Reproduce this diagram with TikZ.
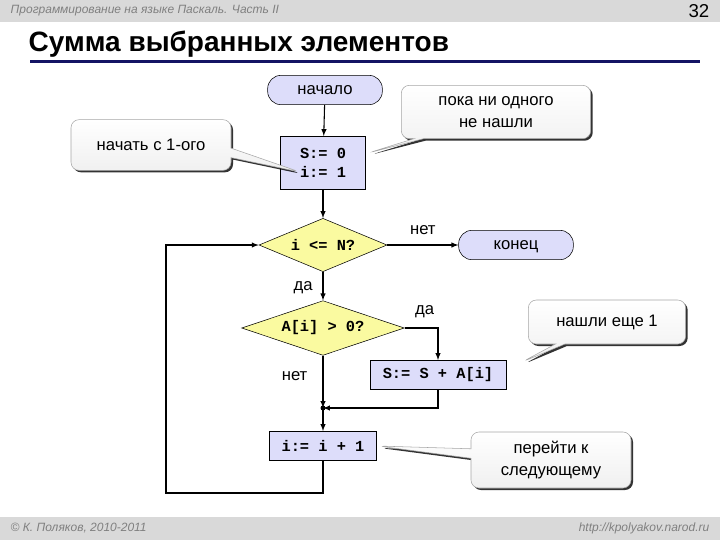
\documentclass[tikz,border=0pt]{standalone}
\usepackage{fontspec}
\setmainfont{Liberation Sans}
\newfontfamily\codefont{Liberation Mono}
\usetikzlibrary{positioning,shapes.geometric,shapes.callouts,shadows}
\definecolor{boxfill}{RGB}{221,221,250}
\definecolor{decfill}{RGB}{250,250,160}
\definecolor{bandgray}{RGB}{217,217,217}
\definecolor{navy}{RGB}{20,20,100}
\begin{document}
\begin{tikzpicture}[x=0.75pt,y=-0.75pt,
  term/.style = {draw, rounded corners=10pt, fill=boxfill, minimum width=86pt, minimum height=22pt, text height=6pt, text depth=0pt, font=\fontsize{12.5}{14}\selectfont},
  proc/.style = {draw, fill=boxfill, inner sep=2pt, font=\codefont\bfseries\fontsize{11.5}{14}\selectfont},
  dec/.style = {draw, diamond, aspect=2.4, inner sep=0pt, fill=decfill, font=\codefont\bfseries\fontsize{11.5}{14}\selectfont},
  note/.style = {rectangle callout, draw=gray!70, rounded corners=6pt, top color=white, bottom color=gray!12,
    drop shadow={shadow xshift=1.5pt, shadow yshift=-1.5pt, fill=black, opacity=0.8}, align=center, font=\fontsize{12.5}{17}\selectfont},
  lbl/.style = {font=\fontsize{12.5}{14}\selectfont},
  arr/.style = {-latex, thick}]
\useasboundingbox (0,0) rectangle (720,540);
% header and footer
\fill[bandgray] (0,0) rectangle (720,22);
\fill[bandgray] (0,517) rectangle (720,540);
\node[anchor=west, gray, font=\itshape\fontsize{9}{10}\selectfont] (head) at (6,11) {Программирование на языке Паскаль. Часть II};
\node[anchor=east, font=\fontsize{14}{14}\selectfont] (page) at (714,11) {32};
\node[anchor=west, font=\bfseries\fontsize{21}{22}\selectfont] (title) at (24,44) {Сумма выбранных элементов};
\fill[navy] (30,60) rectangle (700,63);
\node[anchor=west, gray, font=\itshape\fontsize{9}{10}\selectfont] (copy) at (6,528) {© К. Поляков, 2010-2011};
\node[anchor=east, gray, font=\itshape\fontsize{9}{10}\selectfont] (site) at (714,528) {http://kpolyakov.narod.ru};

% flowchart
\node[term] (start) at (325,90) {начало};
\node[proc, minimum width=64pt, minimum height=40pt, align=left] (init) at (323,163) {S:= 0\\i:= 1};
\node[dec, minimum width=96pt, minimum height=40pt] (cond) at (323,245) {i <= N?};
\node[term] (stop) at (516,245) {конец};
\node[dec, minimum width=122pt, minimum height=41pt] (pos) at (323,328) {A[i] > 0?};
\node[proc, minimum width=102pt, minimum height=22pt] (add) at (438,375) {S:= S + A[i]};
\coordinate (join) at (323,408);
\node[proc, minimum width=80pt, minimum height=22pt] (next) at (323,446) {i:= i + 1};
\coordinate (low) at (323,493);
\coordinate (left) at (166,493);

\draw[arr] (start) -- (init);
\draw[arr] (init) -- (cond);
\draw[arr] (cond) -- node[lbl, above=4pt] {нет} (stop);
\draw[arr] (cond) -- node[lbl, left=4pt, pos=0.55] {да} (pos);
\draw[arr] (pos.east) -| node[lbl, above=4pt, pos=0.3] {да} (add);
\draw[arr] (pos) -- node[lbl, left=8pt, pos=0.4] {нет} (join);
\draw[arr] (add) |- (join);
\fill (join) circle (2.5);
\draw[arr] (join) -- (next);
\draw[arr] (next) -- (low) -- (left) |- (cond);

% notes
\node[note, minimum width=120pt, minimum height=38pt, callout absolute pointer={(300,172)}] (n1) at (151,145) {начать с 1-ого};
\node[note, minimum width=142pt, minimum height=40pt, callout absolute pointer={(368,153)}] (n2) at (496,112) {пока ни одного\\не нашли};
\node[note, minimum width=118pt, minimum height=33pt, callout absolute pointer={(522,362)}] (n3) at (607,322) {нашли еще 1};
\node[note, minimum width=120pt, minimum height=42pt, callout absolute pointer={(378,446)}] (n4) at (551,460) {перейти к\\следующему};
\end{tikzpicture}
\end{document}
